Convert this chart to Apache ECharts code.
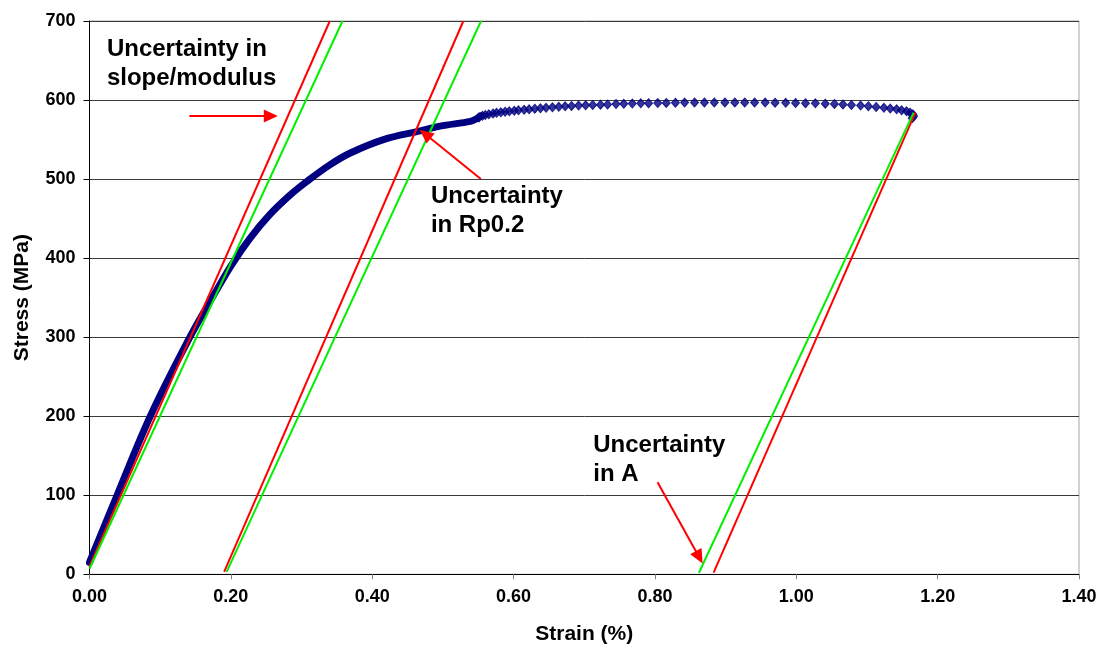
<!DOCTYPE html>
<html>
<head>
<meta charset="utf-8">
<script src="https://cdn.jsdelivr.net/npm/echarts@6/dist/echarts.min.js"></script>
<style>
  html, body { margin: 0; padding: 0; background: #fff; }
  #chart { width: 1103px; height: 648px; }
</style>
</head>
<body>
<div id="chart"></div>
<script>
// Tensile test: measured curve (dense logged part drawn as a band, sparse part as diamonds)
const curveStrain = [0.000, 0.039, 0.086, 0.142, 0.175, 0.200, 0.227, 0.255, 0.284, 0.3075, 0.340, 0.369, 0.416, 0.468, 0.496, 0.539, 0.547, 0.553];
const curveStress = [15, 100, 200, 300, 352, 390, 425, 455, 480, 497, 518, 533, 550, 561, 567, 573, 576, 580];

const pointStrain = [0.551, 0.556, 0.560, 0.565, 0.571, 0.576, 0.582, 0.588, 0.594, 0.601, 0.607, 0.615, 0.622, 0.630, 0.638, 0.646,
  0.655, 0.664, 0.673, 0.682, 0.692, 0.702, 0.712, 0.723, 0.733, 0.745, 0.756, 0.768, 0.780, 0.791, 0.804, 0.816, 0.829, 0.842,
  0.856, 0.870, 0.884, 0.899, 0.913, 0.927, 0.941, 0.956, 0.970, 0.985, 0.999, 1.013, 1.027, 1.041, 1.054, 1.066, 1.078, 1.091,
  1.102, 1.113, 1.124, 1.133, 1.142, 1.149, 1.156, 1.161, 1.165, 1.166, 1.164];
const pointStress = [578, 580, 581, 582, 583, 583.8, 584.5, 585.2, 585.8, 586.4, 587, 587.7, 588.3, 589, 589.6, 590.2,
  590.8, 591.4, 592, 592.5, 593, 593.4, 593.8, 594.2, 594.5, 594.9, 595.2, 595.5, 595.8, 596, 596.2, 596.4, 596.6, 596.8,
  596.9, 597, 597, 597, 597, 597, 596.9, 596.8, 596.7, 596.5, 596.3, 596.1, 595.8, 595.4, 595, 594.4, 593.8, 593,
  592.2, 591.2, 590.2, 589.2, 588.2, 587, 585.8, 584, 582, 579.5, 577];

// Elastic lines: upper/lower modulus estimates
const redSlopeStrain = [0.000, 0.340];
const redSlopeStress = [10, 700];
const greenSlopeStrain = [0.000, 0.358];
const greenSlopeStress = [7, 700];

// 0.2 % offset lines
const redOffsetStrain = [0.1905, 0.529];
const redOffsetStress = [3, 700];
const greenOffsetStrain = [0.194, 0.554];
const greenOffsetStress = [3, 700];

// Unloading lines for elongation after fracture
const redUnloadStrain = [0.883, 1.1685];
const redUnloadStress = [2, 584];
const greenUnloadStrain = [0.8623, 1.166];
const greenUnloadStress = [2, 584];

// Axis ticks
const strainTicks = [0, 0.2, 0.4, 0.6, 0.8, 1.0, 1.2, 1.4];
const stressTicks = [0, 100, 200, 300, 400, 500, 600, 700];

// Annotation texts, their anchor (top-left, data units) and arrows (from -> to, data units)
const noteTexts = ['Uncertainty in\nslope/modulus', 'Uncertainty\nin Rp0.2', 'Uncertainty\nin A'];
const noteAnchorStrain = [0.0246, 0.483, 0.7127];
const noteAnchorStress = [682, 496, 181];
const arrowFromStrain = [0.1413, 0.5537, 0.8037];
const arrowFromStress = [579.7, 500, 116.5];
const arrowToStrain = [0.2565, 0.4749, 0.8627];
const arrowToStress = [579.7, 557, 21.5];

const zip = (xs, ys) => xs.map((x, i) => [x, ys[i]]);
const RED = '#ff0000', GREEN = '#00f000', NAVY = '#000080';
const FONT = '"Liberation Sans", Arial, sans-serif';

const chart = echarts.init(document.getElementById('chart'), null, { renderer: 'canvas' });

function straight(name, xs, ys, color) {
  return {
    name, type: 'line', data: zip(xs, ys), showSymbol: false, symbol: 'none',
    lineStyle: { color, width: 2 }, silent: true, z: 3, animation: false
  };
}

const option = {
  animation: false,
  backgroundColor: '#fff',
  grid: { left: 89.5, right: 24, top: 21, bottom: 73.7, containLabel: false, outerBoundsMode: 'none',
          show: true, borderColor: '#a6a6a6', borderWidth: 1 },
  xAxis: {
    type: 'value', min: strainTicks[0], max: strainTicks[strainTicks.length - 1], interval: 0.2,
    name: 'Strain (%)', nameLocation: 'middle', nameGap: 49,
    nameTextStyle: { fontFamily: FONT, fontWeight: 'bold', fontSize: 21, color: '#000' },
    axisLine: { show: true, onZero: false, lineStyle: { color: '#000', width: 1 } },
    axisTick: { show: true, inside: false, length: 5, lineStyle: { color: '#808080' } },
    axisLabel: { margin: 14, fontFamily: FONT, fontWeight: 'bold', fontSize: 18, color: '#000',
                 formatter: v => v.toFixed(2) },
    splitLine: { show: false }
  },
  yAxis: {
    type: 'value', min: stressTicks[0], max: stressTicks[stressTicks.length - 1], interval: 100,
    name: 'Stress (MPa)', nameLocation: 'middle', nameGap: 57,
    nameTextStyle: { fontFamily: FONT, fontWeight: 'bold', fontSize: 21, color: '#000' },
    axisLine: { show: true, onZero: false, lineStyle: { color: '#000', width: 1 } },
    axisTick: { show: true, inside: false, length: 6, lineStyle: { color: '#000' } },
    axisLabel: { margin: 14, fontFamily: FONT, fontWeight: 'bold', fontSize: 18, color: '#000',
                 formatter: v => String(v) },
    splitLine: { show: true, lineStyle: { color: '#3a3a3a', width: 1 } }
  },
  series: [
    {
      name: 'curve-band', type: 'line', data: zip(curveStrain, curveStress), smooth: 0.35,
      showSymbol: false, symbol: 'none', lineStyle: { color: NAVY, width: 7, cap: 'round', join: 'round' },
      silent: true, z: 2
    },
    {
      name: 'curve-points', type: 'scatter', data: zip(pointStrain, pointStress), symbol: 'diamond',
      symbolSize: [8, 9], itemStyle: { color: NAVY, borderColor: NAVY, borderWidth: 1 }, silent: true, z: 2
    },
    straight('red-slope', redSlopeStrain, redSlopeStress, RED),
    straight('green-slope', greenSlopeStrain, greenSlopeStress, GREEN),
    straight('red-offset', redOffsetStrain, redOffsetStress, RED),
    straight('green-offset', greenOffsetStrain, greenOffsetStress, GREEN),
    straight('red-unload', redUnloadStrain, redUnloadStress, RED),
    straight('green-unload', greenUnloadStrain, greenUnloadStress, GREEN),
    {
      name: 'arrows', type: 'line', data: [], silent: true, z: 5,
      markLine: {
        silent: true, animation: false,
        symbol: ['none', 'triangle'], symbolSize: [13, 14],
        lineStyle: { color: RED, width: 2, type: 'solid' },
        label: { show: false },
        data: arrowFromStrain.map((x, i) => [
          { coord: [x, arrowFromStress[i]] },
          { coord: [arrowToStrain[i], arrowToStress[i]] }
        ])
      }
    }
  ]
};

chart.setOption(option);

// Annotation texts placed at their data anchors
chart.setOption({
  graphic: noteTexts.map((t, i) => {
    const p = chart.convertToPixel({ gridIndex: 0 }, [noteAnchorStrain[i], noteAnchorStress[i]]);
    return {
      type: 'text', left: p[0], top: p[1], z: 10, silent: true,
      style: { text: t, fontFamily: FONT, fontWeight: 'bold', fontSize: 24, lineHeight: 29, fill: '#000' }
    };
  })
});
</script>
</body>
</html>
